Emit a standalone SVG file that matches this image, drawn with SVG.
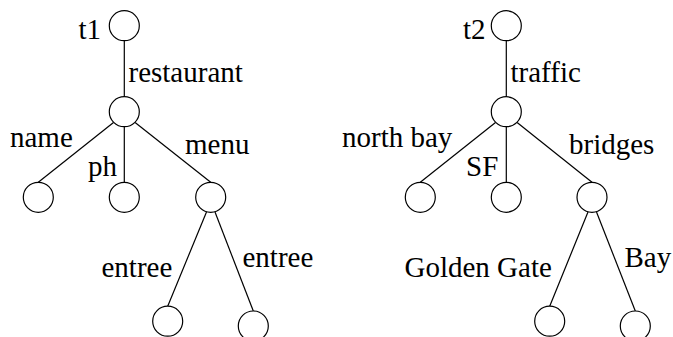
<svg xmlns="http://www.w3.org/2000/svg" width="673" height="337" viewBox="0 0 673 337">
<style>
.n{fill:#fff;stroke:#000;stroke-width:1.2}
.e{stroke:#000;stroke-width:1.2;fill:none}
text{font-family:'Liberation Serif','Times New Roman',Times,'DejaVu Serif',serif;font-size:29px;fill:#000}
</style>
<rect width="673" height="337" fill="#fff"/>
<g id="connectors">
<line class="e" x1="124.3" y1="40.7" x2="124.3" y2="96.7"/>
<line class="e" x1="113.5" y1="122.5" x2="38.3" y2="182.3"/>
<line class="e" x1="124.3" y1="126.7" x2="124.3" y2="182.3"/>
<line class="e" x1="135.1" y1="122.5" x2="210.7" y2="182.3"/>
<line class="e" x1="206.5" y1="212" x2="167.7" y2="306.2"/>
<line class="e" x1="215" y1="212" x2="253.3" y2="311"/>
<line class="e" x1="506.3" y1="40.7" x2="506.3" y2="96.7"/>
<line class="e" x1="495.5" y1="122.5" x2="420.3" y2="182.3"/>
<line class="e" x1="506.3" y1="126.7" x2="506.3" y2="182.3"/>
<line class="e" x1="517.1" y1="122.5" x2="592" y2="182.3"/>
<line class="e" x1="588" y1="212" x2="549.7" y2="306.2"/>
<line class="e" x1="596.5" y1="212" x2="635.3" y2="311"/>
</g>
<g id="t1"><circle class="n" cx="124.3" cy="25.7" r="15"/><text x="78.5" y="39.3">t1</text></g>
<g id="l_restaurant"><text x="128.5" y="81.7">restaurant</text></g>
<g id="n1"><circle class="n" cx="124.3" cy="111.7" r="15"/></g>
<g id="l_name"><text x="10" y="146.7">name</text></g>
<g id="l_ph"><text x="88" y="175.7">ph</text></g>
<g id="l_menu"><text x="185" y="154">menu</text></g>
<g id="n_name"><circle class="n" cx="38.3" cy="197.3" r="15"/></g>
<g id="n_ph"><circle class="n" cx="124.3" cy="197.3" r="15"/></g>
<g id="n_menu"><circle class="n" cx="210.7" cy="197.3" r="15"/></g>
<g id="l_entree1"><text x="101.5" y="276.7">entree</text></g>
<g id="l_entree2"><text x="242.5" y="266.7">entree</text></g>
<g id="n_entree1"><circle class="n" cx="167.7" cy="321.2" r="15"/></g>
<g id="n_entree2"><circle class="n" cx="253.3" cy="326" r="15"/></g>
<g id="t2"><circle class="n" cx="506.3" cy="25.7" r="15"/><text x="463" y="39.3">t2</text></g>
<g id="l_traffic"><text x="510.5" y="81.7">traffic</text></g>
<g id="n2"><circle class="n" cx="506.3" cy="111.7" r="15"/></g>
<g id="l_northbay"><text x="342" y="146.7">north bay</text></g>
<g id="l_sf"><text x="466" y="175.7">SF</text></g>
<g id="l_bridges"><text x="569" y="154">bridges</text></g>
<g id="n_northbay"><circle class="n" cx="420.3" cy="197.3" r="15"/></g>
<g id="n_sf"><circle class="n" cx="506.3" cy="197.3" r="15"/></g>
<g id="n_bridges"><circle class="n" cx="592" cy="197.3" r="15"/></g>
<g id="l_gg"><text x="404.5" y="276.7">Golden Gate</text></g>
<g id="l_bay"><text x="624.5" y="266.7">Bay</text></g>
<g id="n_gg"><circle class="n" cx="549.7" cy="321.2" r="15"/></g>
<g id="n_bay"><circle class="n" cx="635.3" cy="326" r="15"/></g>
</svg>
